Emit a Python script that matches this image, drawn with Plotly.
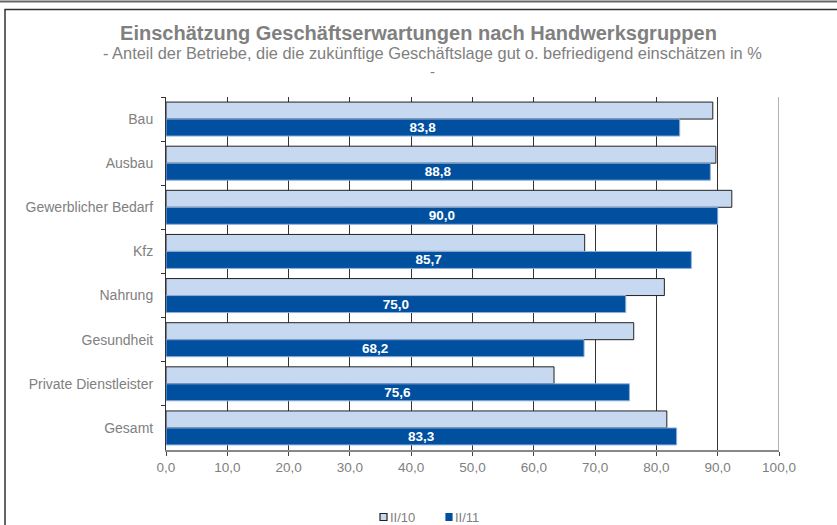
import plotly.graph_objects as go

categories = ["Bau", "Ausbau", "Gewerblicher Bedarf", "Kfz", "Nahrung",
              "Gesundheit", "Private Dienstleister", "Gesamt"]
ii_10 = [89.2, 89.7, 92.3, 68.3, 81.3, 76.3, 63.3, 81.7]
ii_11 = [83.8, 88.8, 90.0, 85.7, 75.0, 68.2, 75.6, 83.3]
series_names = ["II/10", "II/11"]
tick_vals = [0, 10, 20, 30, 40, 50, 60, 70, 80, 90, 100]

W, H = 837, 525
L, R, T, B = 166, 779, 97, 450
FONT = "Liberation Sans, Arial, sans-serif"
GRAY = "#808080"
DARK = "#00509f"
LIGHT = "#c6d9f0"


def px(x):
    return (x - L) / (R - L)


def py(y):
    return (B - y) / (B - T)


fig = go.Figure()
fig.add_trace(go.Bar(
    y=categories, x=ii_10, orientation="h", name=series_names[0],
    marker=dict(color=LIGHT, line=dict(color="#222222", width=1)),
    showlegend=False, hoverinfo="x+y",
))
fig.add_trace(go.Bar(
    y=categories, x=ii_11, orientation="h", name=series_names[1],
    marker=dict(color=DARK, line=dict(color="#8fb0dc", width=1)),
    texttemplate="<b>%{x:.1f}</b>", textposition="inside",
    insidetextanchor="middle", constraintext="none",
    textfont=dict(color="white", size=13.5, family=FONT),
    showlegend=False, hoverinfo="x+y",
))

# legend (small squares + labels, drawn as in the original)
leg_y = 517
leg_items = [
    (380, 387, LIGHT, "#222222", series_names[0], 388),
    (446, 452, DARK, DARK, series_names[1], 453),
]
leg_shapes = []
leg_annots = []
for x0, x1, fill, edge, name, tx in leg_items:
    leg_shapes.append(dict(type="rect", xref="paper", yref="paper",
                           x0=px(x0), x1=px(x1), y0=py(leg_y + 3.5), y1=py(leg_y - 3.5),
                           fillcolor=fill, line=dict(color=edge, width=1.2)))
    leg_annots.append(dict(text=name, xref="paper", yref="paper",
                           x=px(tx), y=py(leg_y), xanchor="left", yanchor="middle",
                           showarrow=False,
                           font=dict(size=13, color=GRAY, family=FONT)))

fig.update_layout(
    width=W, height=H,
    margin=dict(l=L, r=W - R, t=T, b=H - B, pad=0),
    paper_bgcolor="white", plot_bgcolor="white",
    separators=",.",
    barmode="group", bargap=0.23, bargroupgap=0,
    font=dict(family=FONT, color=GRAY, size=13),
    showlegend=False,
    title=dict(
        text="<b>Einschätzung Geschäftserwartungen nach Handwerksgruppen</b>",
        font=dict(size=20, color=GRAY, family=FONT),
        x=0.5, xref="container", xanchor="center",
        y=1 - 33 / H, yref="container", yanchor="middle",
    ),
    xaxis=dict(
        range=[0, 100], tickvals=tick_vals, tickformat=".1f",
        showgrid=True, gridcolor="#333333", gridwidth=1,
        showline=True, linecolor="#888888", linewidth=2,
        ticks="outside", ticklen=4, tickcolor="#444444",
        tickfont=dict(size=13.5, color=GRAY),
        zeroline=False, fixedrange=True,
    ),
    yaxis=dict(
        autorange="reversed", type="category",
        showline=True, linecolor="#333333", linewidth=1,
        ticks="outside", ticklen=4, tickson="boundaries", tickcolor="#333333",
        tickfont=dict(size=14, color=GRAY),
        ticklabelstandoff=9,
        showgrid=False, zeroline=False, fixedrange=True,
    ),
    annotations=[
        dict(text="- Anteil der Betriebe, die die zukünftige Geschäftslage gut o. befriedigend einschätzen in %",
             xref="paper", yref="paper", x=px(432), y=py(53),
             xanchor="center", yanchor="middle", showarrow=False,
             font=dict(size=16.4, color=GRAY, family=FONT)),
        dict(text="-",
             xref="paper", yref="paper", x=px(432), y=py(72),
             xanchor="center", yanchor="middle", showarrow=False,
             font=dict(size=15, color=GRAY, family=FONT)),
    ] + leg_annots,
    shapes=[
        dict(type="line", xref="paper", yref="paper",
             x0=px(0), x1=px(W), y0=py(1.5), y1=py(1.5),
             line=dict(color="#666666", width=2)),
        dict(type="rect", xref="paper", yref="paper",
             x0=px(5), x1=px(W + 5), y0=py(9.5), y1=py(H + 20),
             line=dict(color="#333333", width=1.5), layer="below"),
    ] + leg_shapes,
)
# last gridline at 100 in lighter gray
fig.add_shape(type="line", xref="x", yref="paper", x0=100, x1=100, y0=0, y1=1,
              line=dict(color="#999999", width=1.5))

fig.write_html(
    "out.html",
    config={"displayModeBar": False},
    post_script="document.body.style.margin='0px';document.body.style.overflow='hidden';",
)
